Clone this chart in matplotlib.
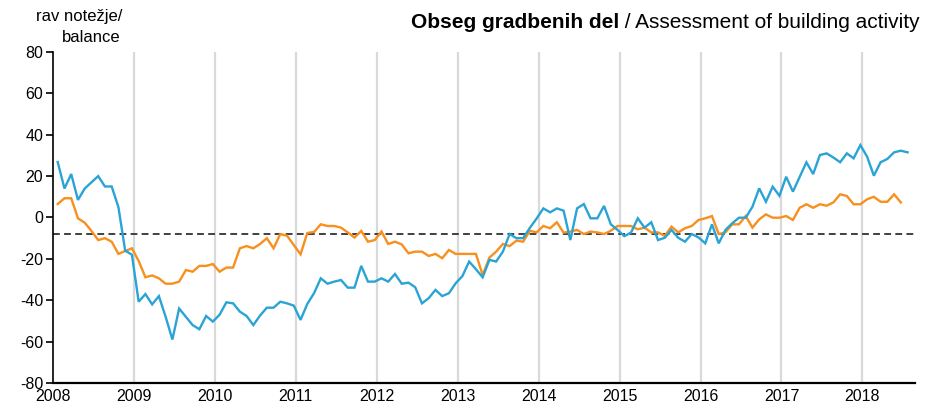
import matplotlib
matplotlib.use("Agg")
import matplotlib.pyplot as plt
import numpy as np

plt.rcParams['font.family'] = ['Liberation Sans', 'DejaVu Sans']

# Monthly data, Jan 2008 onwards
blue = [
    26.8, 14, 21, 8.5, 14, 17, 20, 15, 15, 5, -16, -18,
    -40.7, -37, -42, -38, -48, -59, -44, -48, -52, -54, -47.6, -50.3,
    -47, -41, -41.5, -45.5, -47.6, -52, -47.4, -43.6, -43.6, -40.7, -41.5, -42.6,
    -49.5, -41.8, -36.6, -29.4, -32, -31, -30.2, -33.9, -33.9, -23.4, -31, -31,
    -29.4, -31, -27.3, -32, -31.5, -33.7, -41.5, -39, -35, -38, -36.6, -31.8,
    -28.3, -21.3, -25, -28.9, -20.5, -21.3, -16.5, -8, -10, -10, -5, -0.5,
    4.4, 2.5, 4.4, 3.3, -10.9, 4.4, 6.5, -0.4, -0.4, 5.6, -3.3, -6,
    -9, -7.3, -0.4, -4.9, -2.3, -10.9, -9.8, -6, -9.8, -11.7, -8, -9.6,
    -12.5, -3.3, -12.5, -6, -2.8, -0.1, -0.1, 5.2, 14.1, 7.6, 14.9, 10.5,
    19.7, 12.5, 19.6, 26.7, 21, 30.2, 31, 29, 26.7, 31, 28.6, 35,
    29.4, 20.2, 26.7, 28.3, 31.5, 32.3, 31.5,
]
orange = [
    6.5, 9.3, 9.3, -0.4, -2.5, -6.5, -10.9, -10, -11.7, -17.6, -16.2, -14.9,
    -21, -28.9, -28, -29.4, -32, -32, -31, -25.4, -26.2, -23.4, -23.4, -22.5,
    -26.2, -24.2, -24.2, -14.9, -13.8, -14.9, -12.8, -10, -14.9, -8, -8.8, -13.3,
    -17.8, -7.5, -7, -3.3, -4.1, -4.1, -4.9, -7.2, -9.7, -6.5, -11.7, -10.9,
    -6.8, -12.8, -11.7, -13, -17.3, -16.5, -16.5, -18.6, -17.6, -19.7, -15.7, -17.6,
    -17.6, -17.6, -17.6, -27.8, -19.4, -16.5, -12.8, -13.8, -11.2, -11.7, -6.4, -7.2,
    -4.1, -5.2, -2.3, -7.3, -6.8, -6, -8, -6.8, -7.2, -8, -6.4, -4.1,
    -4.1, -4.1, -5.7, -4.9, -7.2, -7.2, -8.9, -4.4, -7.2, -5.2, -4.1, -1.2,
    -0.4, 0.7, -8, -7.2, -3.3, -3.3, 0.7, -4.9, -0.9, 1.5, -0.1, -0.1,
    0.7, -1.2, 4.7, 6.4, 4.7, 6.4, 5.7, 7.3, 11.2, 10.4, 6.4, 6.4,
    8.8, 10, 7.6, 7.6, 11.2, 7.3,
]
average = -8.0
years = list(range(2008, 2019))
yticks = list(range(-80, 81, 20))

start_year = 2008
xb = start_year + (np.arange(len(blue)) + 0.7) / 12
xo = start_year + (np.arange(len(orange)) + 0.7) / 12

W, H = 926, 404
fig = plt.figure(figsize=(W / 100, H / 100), dpi=100)
ax = fig.add_axes([53 / W, 1 - 383 / H, (915 - 53) / W, (383 - 52) / H])

for yr in years[1:]:
    ax.axvline(yr, color='#d9d9d9', lw=1.6, zorder=1)

ax.axhline(average, color='#404040', lw=1.4, ls=(0, (3.5, 2.2)), zorder=2)
ax.plot(xo, orange, color='#F7901E', lw=1.7, zorder=3, solid_joinstyle='miter')
ax.plot(xb, blue, color='#2AA3D5', lw=1.7, zorder=4, solid_joinstyle='miter')

ax.set_xlim(2008, 2018.65)
ax.set_ylim(-80, 80)
ax.set_yticks(yticks)
ax.set_yticklabels([str(v) for v in yticks])
ax.set_xticks(years)
ax.set_xticklabels([str(y) for y in years])

for s in ['top', 'right']:
    ax.spines[s].set_visible(False)
ax.spines['left'].set_linewidth(1.2)
ax.spines['bottom'].set_linewidth(1.6)
ax.tick_params(axis='y', direction='out', length=5, width=1.2, pad=2, labelsize=11.5)
ax.tick_params(axis='x', length=0, pad=4.6, labelsize=11.5)

fig.text(122 / W, 1 - 17 / H, 'rav notežje/', ha='right', va='center', fontsize=12)
fig.text(121 / W, 1 - 38 / H, 'balance', ha='right', va='center', fontsize=12)

fig.canvas.draw()
r = fig.canvas.get_renderer()
t2 = fig.text(920 / W, 1 - 22 / H, ' / Assessment of building activity', ha='right', va='center', fontsize=15)
bb = t2.get_window_extent(renderer=r)
fig.text(bb.x0 / W, 1 - 22 / H, 'Obseg gradbenih del', ha='right', va='center', fontsize=15, fontweight='bold')

fig.savefig('out.png', dpi=100)
